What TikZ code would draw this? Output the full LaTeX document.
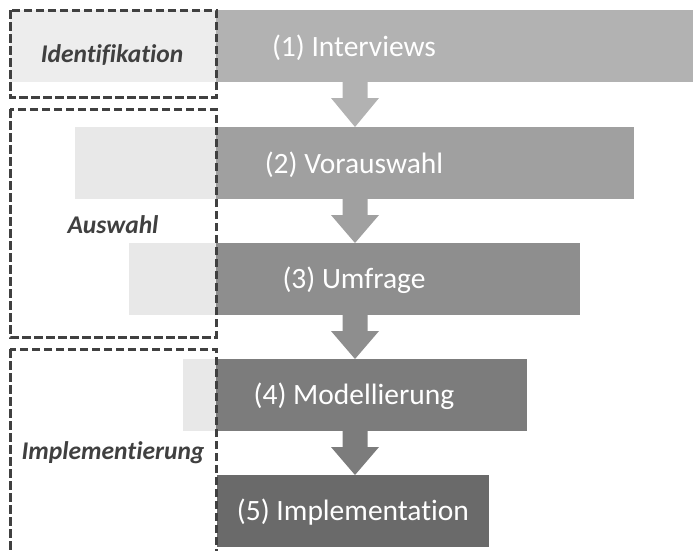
\documentclass[tikz,border=0pt]{standalone}
\usepackage{fontspec}
\setmainfont{Carlito}[Ligatures=NoCommon]
\usetikzlibrary{calc}
\definecolor{lightA}{HTML}{EDEDED}
\definecolor{lightB}{HTML}{E8E8E8}
\definecolor{barA}{HTML}{B2B2B2}
\definecolor{barB}{HTML}{A0A0A0}
\definecolor{barC}{HTML}{8E8E8E}
\definecolor{barD}{HTML}{7C7C7C}
\definecolor{barE}{HTML}{6A6A6A}
\definecolor{frame}{HTML}{404040}
\tikzset{
  barbox/.style={rectangle, inner sep=0pt, outer sep=0pt, anchor=north west, minimum height=72pt},
  bartext/.style={text=white, font=\fontsize{29.5}{34}\selectfont},
  phasebox/.style={draw=frame, line width=3pt, dash pattern=on 8.5pt off 3.5pt},
  phasetext/.style={text=frame, font=\fontsize{25.5}{30}\selectfont\bfseries\itshape},
}
\newcommand{\blockarrow}[3]{%
  \fill[#3] let \p1=(#1), \p2=(#2) in
    (\x1-12.5pt,\y1) -- (\x1-12.5pt,\y1-16pt) -- (\x1-24pt,\y1-16pt) -- (\x2,\y2)
    -- (\x1+24pt,\y1-16pt) -- (\x1+12.5pt,\y1-16pt) -- (\x1+12.5pt,\y1) -- cycle;}
\begin{document}
\begin{tikzpicture}[x=1pt,y=-1pt]
\useasboundingbox (0,0) rectangle (693,550);
\coordinate (axis) at (355,0);
% bar 1
\node[barbox, fill=lightA, minimum width=206pt] (l1) at (10,10) {};
\node[barbox, fill=barA, minimum width=477pt] (b1) at (216,10) {};
% bar 2
\node[barbox, fill=lightB, minimum width=141pt] (l2) at (75,127) {};
\node[barbox, fill=barB, minimum width=418pt] (b2) at (216,127) {};
% bar 3
\node[barbox, fill=lightB, minimum width=87pt] (l3) at (129,243) {};
\node[barbox, fill=barC, minimum width=364pt] (b3) at (216,243) {};
% bar 4
\node[barbox, fill=lightB, minimum width=33pt] (l4) at (183,359) {};
\node[barbox, fill=barD, minimum width=311pt] (b4) at (216,359) {};
% bar 5
\node[barbox, fill=barE, minimum width=272pt] (b5) at (217,475) {};
% texts
\node[bartext] (t1) at (354,47.5) {(1) Interviews};
\node[bartext] (t2) at (354,164.5) {(2) Vorauswahl};
\node[bartext] (t3) at (354,280.5) {(3) Umfrage};
\node[bartext] (t4) at (354,396.5) {(4) Modellierung};
\node[bartext] (t5) at (353,512.5) {(5) Implementation};
% arrows
\blockarrow{b1.south -| axis}{b2.north -| axis}{barA}
\blockarrow{b2.south -| axis}{b3.north -| axis}{barB}
\blockarrow{b3.south -| axis}{b4.north -| axis}{barC}
\blockarrow{b4.south -| axis}{b5.north -| axis}{barD}
% phase frames
\begin{scope}
\clip (0,0) rectangle (693,550);
\draw[phasebox] (10,10) rectangle (216,97);
\draw[phasebox] (10,109) rectangle (216,337);
\draw[phasebox] (10,349) rectangle (216,560);
\end{scope}
\node[phasetext] (p1) at (112,55) {Identifikation};
\node[phasetext] (p2) at (113,225) {Auswahl};
\node[phasetext] (p3) at (113,453) {Implementierung};
\end{tikzpicture}
\end{document}
